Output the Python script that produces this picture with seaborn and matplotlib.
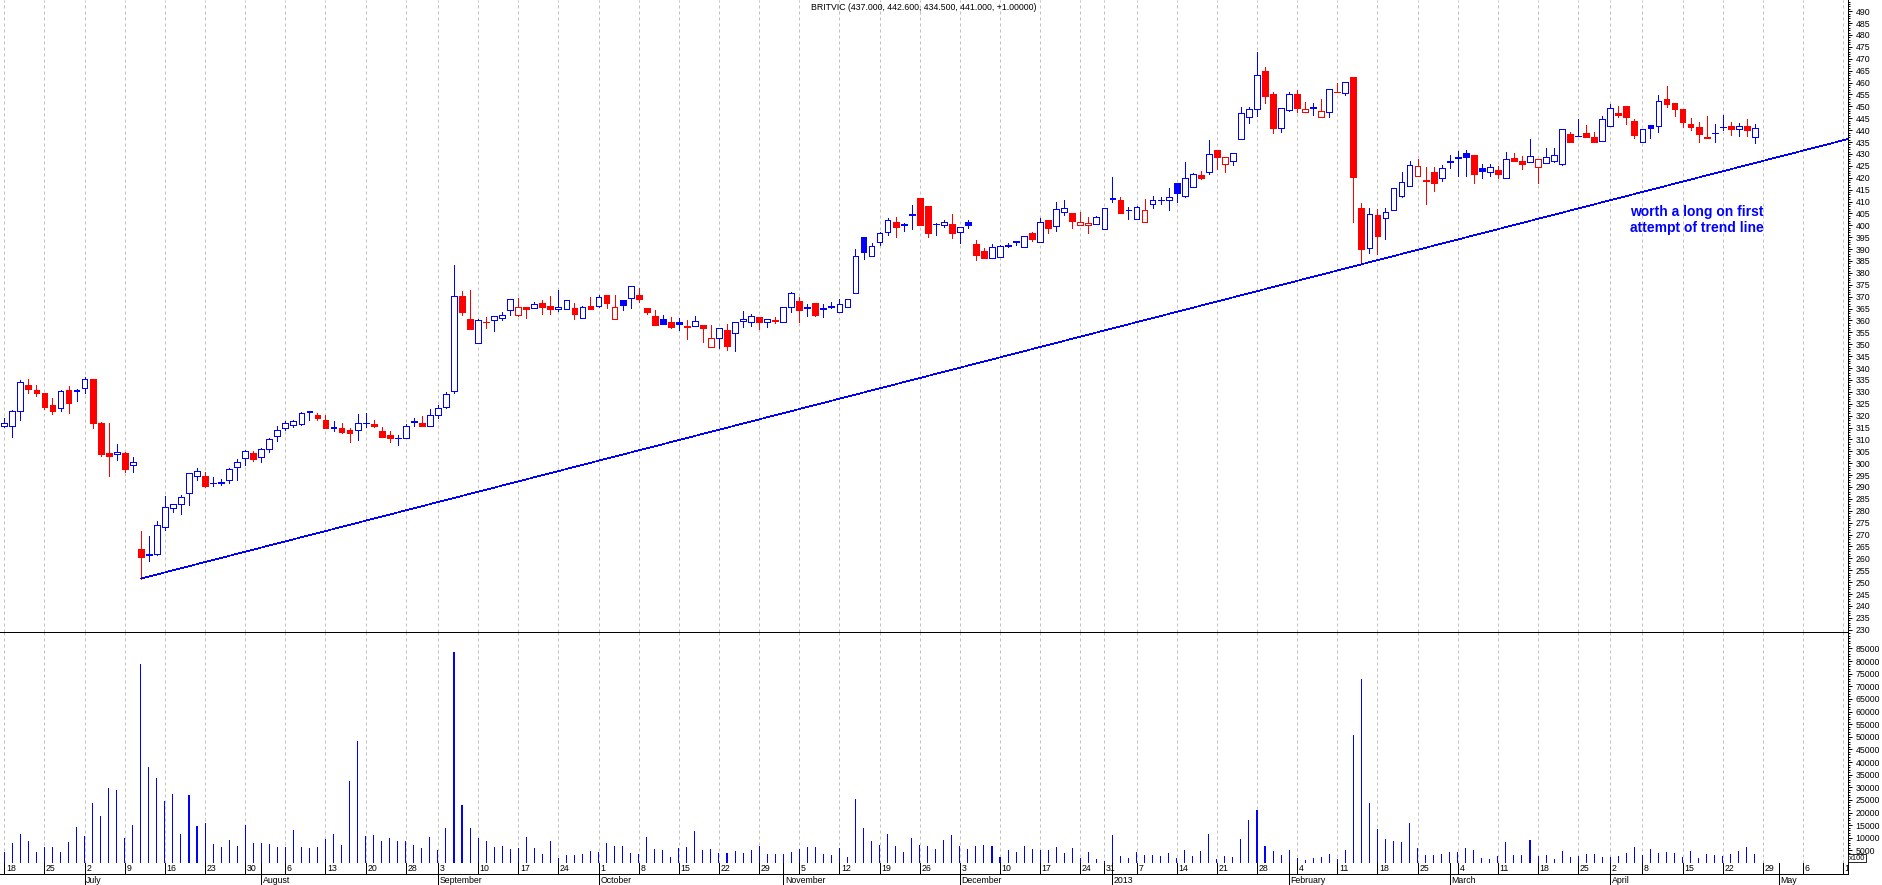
import pandas as pd
import seaborn as sns
import matplotlib
matplotlib.use("Agg")
import matplotlib.pyplot as plt
import matplotlib.transforms as mtransforms
from matplotlib.patches import Rectangle
from matplotlib.ticker import MultipleLocator, FixedLocator, FuncFormatter

# Seaborn theme first, then the font list (set_style resets font.family)
sns.set_style("white", {"axes.edgecolor": "black", "xtick.color": "black",
                        "ytick.color": "black", "text.color": "black"})
plt.rcParams["font.family"] = ["Liberation Sans", "DejaVu Sans"]

# Texts on the chart
title_text = "BRITVIC (437.000, 442.600, 434.500, 441.000, +1.00000)"
note_text = "worth a long on first\nattempt of trend line"

# Trading calendar of the chart (LSE holidays are skipped)
start_day = "2012-06-18"
end_day = "2013-04-26"
axis_end_day = "2013-05-17"
uk_holidays = ["2012-08-27", "2012-12-25", "2012-12-26",
               "2013-01-01", "2013-03-29", "2013-04-01"]

# Daily prices (pence)
open_px = [
    315.8, 315.8, 321.8, 332.9, 330.8, 329.6, 324.3, 323.1, 330.8, 330.5,
    331.5, 335.6, 317.1, 304.3, 303.8, 304.3, 299.1, 264.0, 261.5, 262.0,
    273.0, 281.1, 282.7, 287.5, 294.7, 294.6, 291.5, 291.7, 292.8, 298.5,
    302.1, 304.3, 302.5, 305.8, 311.6, 314.6, 316.1, 316.4, 321.6, 320.3,
    318.3, 315.0, 314.9, 313.8, 313.8, 316.9, 316.5, 313.4, 311.8, 310.6,
    310.4, 317.3, 316.8, 315.8, 320.1, 323.6, 330.3, 370.3, 360.6, 350.7,
    359.4, 360.2, 361.2, 364.4, 362.3, 365.5, 365.1, 367.2, 366.1, 364.7,
    364.7, 365.1, 360.9, 366.1, 366.1, 370.7, 360.5, 368.6, 369.3, 370.7,
    365.4, 361.9, 360.5, 359.5, 359.2, 357.3, 357.8, 358.1, 349.0, 352.5,
    356.0, 354.6, 359.8, 359.2, 361.3, 359.2, 360.0, 359.5, 365.5, 368.2,
    365.3, 367.2, 364.8, 366.1, 363.4, 365.8, 371.4, 394.9, 387.1, 393.1,
    397.1, 401.4, 400.3, 404.5, 411.3, 408.1, 400.4, 400.1, 400.6, 397.3,
    401.5, 392.2, 389.2, 386.4, 386.8, 391.3, 393.1, 391.0, 396.6, 393.1,
    402.2, 399.9, 405.7, 405.0, 400.0, 400.0, 400.4, 398.3, 411.3, 410.6,
    406.3, 402.5, 401.5, 408.8, 410.6, 410.6, 417.7, 412.5, 416.3, 421.0,
    422.3, 431.7, 425.6, 427.2, 436.1, 445.4, 448.8, 465.0, 455.0, 440.8,
    448.5, 455.0, 447.5, 449.5, 445.4, 447.5, 456.2, 455.5, 462.2, 407.1,
    390.3, 404.3, 402.9, 406.4, 412.5, 416.7, 420.9, 419.0, 422.3, 419.7,
    426.8, 428.4, 430.2, 429.5, 424.2, 422.3, 423.2, 419.7, 428.4, 427.0,
    426.5, 424.4, 426.0, 427.0, 425.8, 438.2, 437.6, 438.7, 437.3, 435.6,
    441.9, 447.1, 450.1, 443.8, 435.2, 442.2, 441.9, 452.9, 451.3, 448.8,
    442.6, 441.2, 437.0, 438.8, 441.2, 441.7, 440.3, 441.7, 437.0,
]
high_px = [
    318.8, 322.5, 334.8, 335.3, 332.9, 329.7, 327.3, 330.8, 332.6, 331.1,
    336.3, 335.6, 317.5, 317.1, 308.1, 304.5, 302.5, 271.3, 269.5, 275.8,
    286.3, 283.0, 286.5, 296.0, 298.0, 296.5, 294.3, 293.5, 298.0, 301.8,
    305.5, 305.1, 306.3, 310.8, 315.6, 317.6, 318.3, 321.5, 322.0, 321.3,
    320.3, 317.9, 316.8, 314.9, 320.6, 320.9, 318.3, 315.3, 313.4, 311.8,
    316.4, 318.8, 319.8, 322.8, 324.3, 329.9, 383.3, 372.4, 372.8, 360.5,
    361.3, 362.0, 363.4, 369.0, 369.3, 365.5, 367.9, 368.6, 370.3, 372.8,
    368.6, 367.2, 366.1, 370.0, 370.7, 370.7, 370.7, 368.6, 374.5, 373.5,
    365.4, 364.4, 362.3, 361.6, 361.2, 360.2, 361.9, 358.1, 358.1, 356.7,
    358.5, 359.2, 364.0, 362.6, 361.3, 360.5, 361.6, 365.8, 372.1, 370.0,
    367.0, 367.2, 366.9, 367.6, 368.9, 369.0, 390.0, 394.9, 392.4, 397.3,
    402.9, 403.4, 400.8, 408.5, 411.3, 408.1, 400.8, 402.2, 404.6, 399.4,
    402.2, 393.8, 390.3, 392.0, 391.7, 392.4, 393.4, 395.5, 397.2, 403.2,
    402.2, 410.0, 410.7, 405.0, 405.6, 403.6, 403.9, 407.1, 420.2, 411.8,
    407.8, 408.1, 411.1, 412.5, 412.0, 415.5, 417.7, 426.5, 422.1, 422.8,
    435.9, 431.7, 428.6, 430.3, 449.9, 449.9, 473.0, 466.5, 456.0, 449.5,
    456.0, 457.0, 452.0, 451.5, 453.1, 457.2, 459.7, 460.1, 462.2, 409.2,
    407.1, 406.7, 407.1, 415.5, 422.5, 427.2, 427.7, 424.6, 424.6, 425.3,
    429.6, 431.4, 431.6, 429.5, 425.8, 425.8, 424.9, 430.9, 430.2, 429.1,
    436.3, 427.7, 432.6, 432.6, 440.5, 439.1, 444.5, 442.2, 439.4, 446.0,
    451.0, 450.1, 450.1, 444.5, 440.3, 442.2, 454.8, 458.6, 451.3, 448.8,
    445.0, 443.6, 446.0, 442.6, 446.4, 443.6, 442.9, 444.5, 442.6,
]
low_px = [
    315.3, 311.2, 318.3, 329.6, 328.1, 322.8, 320.6, 321.8, 321.3, 326.3,
    329.3, 315.0, 303.2, 294.6, 301.3, 296.2, 296.2, 251.5, 259.0, 261.5,
    272.0, 279.3, 278.5, 282.3, 292.8, 290.2, 290.5, 290.8, 291.7, 292.8,
    299.1, 301.0, 300.6, 304.8, 309.3, 313.8, 315.3, 316.1, 318.3, 318.3,
    315.0, 313.5, 312.8, 308.8, 309.6, 315.3, 315.3, 311.2, 308.8, 307.8,
    310.4, 315.8, 315.8, 315.8, 319.1, 323.3, 329.3, 362.3, 356.4, 350.7,
    356.7, 355.7, 360.2, 362.3, 362.0, 360.9, 365.1, 362.6, 362.6, 364.1,
    364.7, 360.5, 360.9, 364.7, 365.8, 365.4, 360.5, 364.4, 365.4, 367.6,
    362.7, 358.1, 358.6, 357.0, 356.0, 352.3, 357.8, 351.1, 349.0, 348.3,
    347.6, 347.3, 357.4, 357.8, 356.3, 357.4, 358.8, 359.5, 363.7, 359.5,
    362.0, 361.9, 361.6, 365.1, 363.4, 365.8, 371.4, 385.7, 387.1, 391.7,
    395.9, 395.2, 397.8, 398.3, 400.1, 395.0, 395.9, 399.4, 394.5, 392.7,
    398.7, 385.4, 386.4, 386.4, 386.8, 391.0, 391.7, 391.0, 393.6, 393.1,
    396.9, 397.7, 404.3, 399.0, 400.0, 396.9, 400.4, 398.3, 410.0, 405.0,
    402.5, 402.5, 401.5, 407.1, 408.8, 406.4, 410.0, 412.0, 416.3, 419.6,
    421.6, 423.7, 422.6, 425.4, 436.1, 443.2, 446.0, 451.5, 439.0, 439.4,
    448.0, 447.8, 447.5, 446.4, 445.4, 445.4, 455.9, 454.8, 401.5, 383.6,
    388.5, 387.9, 394.2, 406.4, 411.8, 416.7, 420.9, 409.0, 414.6, 418.8,
    424.2, 420.9, 420.9, 417.6, 420.0, 420.9, 419.7, 419.7, 427.2, 423.5,
    426.5, 417.9, 426.0, 426.5, 425.3, 435.2, 437.6, 437.3, 435.2, 435.6,
    441.9, 445.4, 442.4, 436.6, 435.2, 436.8, 439.4, 449.9, 446.0, 441.2,
    439.9, 435.2, 436.6, 435.2, 440.2, 437.9, 437.6, 437.6, 434.5,
]
close_px = [
    316.8, 322.1, 334.1, 331.1, 329.7, 323.6, 321.8, 330.3, 325.5, 330.8,
    335.3, 317.1, 303.7, 303.1, 304.5, 297.7, 300.7, 260.5, 262.0, 274.0,
    281.5, 282.7, 286.0, 295.8, 296.8, 290.5, 291.8, 292.0, 297.7, 300.5,
    305.2, 301.8, 305.8, 310.3, 313.8, 316.8, 317.6, 321.3, 321.8, 318.8,
    315.0, 315.3, 313.1, 312.6, 316.8, 317.1, 315.6, 311.2, 310.4, 310.8,
    315.8, 317.6, 315.8, 320.1, 323.1, 329.1, 370.2, 363.7, 356.4, 360.2,
    359.2, 362.0, 362.3, 369.0, 365.5, 364.8, 367.1, 365.8, 364.7, 365.5,
    368.6, 362.6, 365.8, 364.7, 369.7, 367.2, 365.5, 366.5, 374.5, 369.0,
    363.7, 358.1, 358.6, 357.4, 358.4, 357.8, 359.9, 356.7, 352.5, 356.7,
    349.4, 359.2, 360.6, 361.9, 359.2, 360.5, 359.8, 365.5, 371.4, 364.4,
    365.5, 362.3, 365.4, 365.6, 366.8, 369.0, 387.2, 388.6, 391.3, 396.6,
    402.2, 399.2, 400.6, 404.8, 400.1, 396.6, 400.6, 401.3, 396.6, 399.4,
    400.1, 387.5, 386.4, 391.0, 391.5, 391.6, 393.2, 395.5, 394.1, 401.3,
    399.0, 406.7, 407.2, 401.9, 401.3, 400.8, 403.4, 407.1, 410.9, 405.3,
    406.5, 407.6, 406.4, 410.6, 410.8, 412.0, 413.4, 419.7, 421.6, 420.0,
    430.0, 428.9, 428.6, 430.3, 447.1, 448.8, 463.0, 454.5, 440.8, 449.2,
    455.0, 449.3, 448.9, 449.6, 448.0, 457.2, 455.9, 460.1, 420.2, 390.0,
    404.7, 395.6, 405.4, 415.5, 418.3, 425.3, 424.9, 418.8, 417.9, 423.9,
    427.0, 428.6, 428.8, 421.4, 423.0, 424.4, 421.4, 427.9, 427.2, 425.8,
    429.1, 427.7, 428.6, 429.5, 440.5, 435.2, 437.7, 437.3, 435.2, 444.5,
    449.2, 446.4, 445.7, 438.0, 440.3, 440.8, 452.4, 451.0, 448.9, 443.6,
    441.5, 438.3, 436.6, 439.0, 441.5, 440.5, 441.9, 440.1, 441.0,
]
# Daily volume (units of 100 shares, as on the axis)
volume = [
    4500, 8000, 11600, 8700, 4400, 6300, 6300, 4400, 8300, 14300,
    10800, 23800, 18700, 29800, 29000, 10000, 15200, 79000, 38200, 33800,
    24700, 27500, 11600, 27000, 14800, 15900, 7700, 6400, 9200, 6900,
    15200, 8000, 8000, 7700, 6500, 6500, 13100, 6300, 5900, 6300,
    9500, 11500, 7100, 32500, 48300, 10800, 11100, 8700, 9900, 8700,
    8700, 7100, 5900, 10300, 5200, 13900, 83500, 23000, 13900, 9900,
    8700, 6300, 6700, 5600, 5900, 10300, 5900, 3600, 8700, 2000,
    3200, 3200, 3600, 4800, 4400, 7900, 6700, 6700, 4000, 3600,
    10300, 5600, 5200, 2400, 6100, 6300, 12700, 5200, 5600, 4000,
    4000, 4800, 4000, 5200, 6700, 3600, 3600, 3600, 4400, 5600,
    6300, 6300, 3600, 3200, 5900, 2400, 25400, 13900, 8700, 7100,
    11500, 6700, 4400, 9900, 7100, 6700, 5600, 9100, 11100, 6700,
    5600, 6700, 7100, 6700, 2400, 5200, 4400, 6700, 5600, 5200,
    5200, 6300, 4000, 5900, 2000, 4400, 1600, 800, 11100, 2800,
    2000, 4400, 3200, 3200, 2800, 4000, 2000, 5200, 2800, 4800,
    11500, 1600, 2800, 2400, 9500, 17000, 21000, 6700, 4800, 3200,
    5200, 2000, 1200, 2000, 2400, 3600, 1600, 5200, 50700, 72800,
    23600, 13300, 9400, 8600, 8200, 15700, 6100, 3000, 3300, 3400,
    4200, 4200, 6100, 5000, 2100, 1700, 2600, 8200, 3000, 3000,
    9200, 2600, 3000, 1700, 4600, 2200, 2600, 3400, 3400, 2200,
    2200, 2600, 4000, 6200, 3000, 5400, 4000, 4200, 4000, 2200,
    4600, 1900, 3400, 3000, 2600, 3400, 4600, 6200, 3400,
]

# The trend line runs from the July swing low through the February low
trend_from = 17
trend_touch = 169

UP = "#0000ff"
DOWN = "#ff0000"
GRID = "#c0c0c0"

# Calendar -> bar positions
days = pd.bdate_range(start_day, end_day)
days = days[~days.isin(pd.to_datetime(uk_holidays))]
future = pd.bdate_range(pd.Timestamp(end_day) + pd.Timedelta(days=1), axis_end_day)
all_days = days.append(future)
n = len(close_px)
pos = list(range(n))

week_pos = [i for i, d in enumerate(all_days)
            if i == 0 or d.weekday() < all_days[i - 1].weekday()
            or (d - all_days[i - 1]).days >= 7]
month_pos = [i for i, d in enumerate(all_days)
             if i > 0 and d.month != all_days[i - 1].month]


def month_name(d):
    return str(d.year) if d.month == 1 else d.strftime("%B")


# Layout in pixels of the 1883 x 885 picture
W, H = 1883, 885
right_px, split_px, base_px, date_px = 1848, 632, 863, 874
step_px, first_px = 8.03, 4.3

fig = plt.figure(figsize=(W / 100, H / 100), dpi=100)
ax = fig.add_axes([0, 1 - split_px / H, right_px / W, split_px / H])
axv = fig.add_axes([0, 1 - date_px / H, right_px / W, (date_px - split_px) / H])

x_lo = -first_px / step_px
x_hi = (right_px - first_px) / step_px

# Price panel: dashed weekly grid, candles, trend line
for p in week_pos:
    ax.axvline(p, color=GRID, lw=0.72, ls=(0, (3, 3)), zorder=1)

body_w = 0.72
line_w = 0.72
for i in pos:
    o, h, l, c = open_px[i], high_px[i], low_px[i], close_px[i]
    col = UP if i == 0 or c >= close_px[i - 1] else DOWN
    ax.vlines(i, l, h, color=col, lw=line_w, antialiased=False, zorder=2)
    face = col if c < o else "white"
    ax.add_patch(Rectangle((i - body_w / 2, min(o, c)), body_w, abs(c - o),
                           facecolor=face, edgecolor=col, lw=line_w,
                           antialiased=False, zorder=3))

slope = (low_px[trend_touch] - low_px[trend_from]) / (trend_touch - trend_from)
ax.plot([trend_from, x_hi], [low_px[trend_from],
                             low_px[trend_from] + slope * (x_hi - trend_from)],
        color=UP, lw=0.5, antialiased=False, zorder=4)

ax.set_xlim(x_lo, x_hi)
ax.set_ylim(229.05, 494.7)
ax.yaxis.set_major_locator(MultipleLocator(5))
ax.yaxis.set_minor_locator(MultipleLocator(1))

# Volume panel
sns.barplot(x=pos, y=volume, native_scale=True, orient="x", width=0.13,
            color=UP, saturation=1, errorbar=None, linewidth=0,
            antialiased=False, ax=axv)
base_frac = (date_px - base_px) / (date_px - split_px)
for p in week_pos:
    axv.axvline(p, ymin=base_frac, ymax=1, color=GRID, lw=0.72,
                ls=(0, (3, 3)), zorder=0)
vol_per_px = 1000 / 2.524
axv.set_xlim(x_lo, x_hi)
axv.set_ylim(-(date_px - base_px) * vol_per_px, (base_px - split_px) * vol_per_px)
axv.yaxis.set_major_locator(FixedLocator(range(5000, 85001, 5000)))
axv.yaxis.set_minor_locator(FixedLocator(range(1000, 91001, 1000)))
axv.yaxis.set_major_formatter(FuncFormatter(lambda v, _: f"{int(v)}"))
axv.set_xlabel("")
axv.set_ylabel("")

# Date axis under the volume panel
trans = mtransforms.blended_transform_factory(axv.transData, axv.transAxes)
axv.vlines(week_pos, 0, base_frac, transform=trans, color="black", lw=0.72,
           antialiased=False)
for p in week_pos:
    axv.text(p + 0.2, base_frac / 2, str(all_days[p].day), transform=trans,
             fontsize=6.3, ha="left", va="center", clip_on=True)
axv.vlines(month_pos, -base_frac, base_frac, transform=trans, color="black",
           lw=0.72, antialiased=False, clip_on=False)
for p in month_pos:
    axv.text(p + 0.2, -base_frac / 2 - 0.003, month_name(all_days[p]),
             transform=trans, fontsize=6.3, ha="left", va="center",
             clip_on=False)

for a in (ax, axv):
    a.set_xticks([])
    a.yaxis.tick_right()
    a.tick_params(axis="y", which="major", direction="out", length=3.1,
                  width=0.72, labelsize=6.3, pad=2.5, right=True, left=False)
    a.tick_params(axis="y", which="minor", direction="out", length=1.7,
                  width=0.72, right=True, left=False)
    a.spines["left"].set_visible(False)
    for s in ("right", "bottom", "top"):
        a.spines[s].set_linewidth(0.72)
        a.spines[s].set_color("black")
ax.spines["top"].set_visible(False)

fig.text(924 / W, 1 - 7 / H, title_text, ha="center", va="center", fontsize=6.3)
fig.text(1630 / W, 1 - 220 / H, note_text, ha="left", va="center", color=UP,
         fontsize=10, fontweight="bold", linespacing=1.15)
fig.text(1849 / W, 1 - 858 / H, "x100", ha="left", va="center", fontsize=5.5,
         bbox=dict(boxstyle="square,pad=0.1", fc="white", ec="black", lw=0.6))

fig.savefig("out.png", dpi=100)
